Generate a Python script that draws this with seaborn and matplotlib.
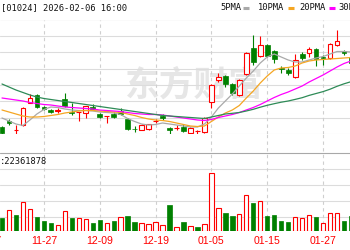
import numpy as np
import pandas as pd
import matplotlib
matplotlib.use("Agg")
import matplotlib.pyplot as plt
import matplotlib.transforms as mtransforms
from matplotlib.lines import Line2D
import seaborn as sns

# ---------------- data ----------------
dates = ["11-19", "11-20", "11-21", "11-24", "11-25", "11-26", "11-27", "11-28",
         "12-01", "12-02", "12-03", "12-04", "12-05", "12-08", "12-09", "12-10",
         "12-11", "12-12", "12-15", "12-16", "12-17", "12-18", "12-19", "12-22",
         "12-23", "12-24", "12-29", "12-30", "12-31", "01-02", "01-05", "01-06",
         "01-07", "01-08", "01-09", "01-12", "01-13", "01-14", "01-15", "01-16",
         "01-19", "01-20", "01-21", "01-22", "01-23", "01-26", "01-27", "01-28",
         "01-29", "01-30", "02-02"]

open_ = [77.30, 77.90, 76.95, 77.50, 79.70, 80.50, 79.30, 79.00, 78.90, 80.10,
         78.80, 78.75, 78.70, 79.30, 78.60, 78.35, 78.60, 78.90, 78.10, 77.10,
         77.00, 77.05, 77.85, 78.40, 77.20, 77.15, 77.30, 76.70, 76.85, 76.80,
         79.80, 82.00, 82.40, 81.60, 80.50, 82.60, 85.20, 84.40, 85.50, 84.90,
         83.15, 83.00, 82.30, 84.60, 84.70, 85.10, 84.30, 84.20, 85.50, 84.90,
         84.30]
close = [76.70, 77.70, 77.00, 79.20, 80.20, 79.30, 79.10, 78.80, 78.95, 79.40,
         78.70, 78.80, 79.40, 79.10, 78.30, 78.40, 78.30, 78.60, 77.10, 77.05,
         77.50, 77.55, 77.90, 78.20, 77.00, 77.20, 76.90, 77.20, 76.90, 78.20,
         81.50, 82.30, 81.60, 80.70, 82.00, 84.70, 83.80, 85.50, 84.40, 84.10,
         83.10, 82.70, 84.00, 84.20, 85.10, 84.10, 84.20, 85.60, 85.90, 84.70,
         83.70]
high = [77.40, 78.10, 77.50, 79.30, 80.60, 80.60, 79.40, 79.10, 79.20, 80.70,
        79.70, 78.80, 79.40, 79.60, 78.70, 78.40, 78.80, 79.20, 78.20, 77.40,
        77.60, 77.60, 78.10, 78.60, 77.30, 77.50, 77.60, 77.30, 77.00, 78.30,
        81.60, 82.70, 82.50, 81.70, 82.10, 84.80, 86.50, 86.40, 85.60, 85.00,
        83.40, 83.20, 84.60, 84.80, 85.30, 85.20, 84.50, 85.70, 87.00, 85.00,
        84.50]
low = [76.60, 77.50, 76.20, 77.40, 79.70, 79.20, 79.00, 78.70, 78.70, 79.30,
       78.50, 77.90, 78.20, 79.00, 78.20, 77.70, 78.20, 78.50, 77.00, 76.80,
       77.00, 77.00, 77.70, 78.00, 76.50, 77.00, 76.80, 76.70, 76.50, 76.70,
       79.20, 81.80, 81.30, 80.50, 80.40, 82.50, 83.50, 84.30, 84.30, 83.70,
       82.70, 82.50, 82.20, 84.00, 84.30, 83.40, 83.50, 84.10, 85.40, 84.50,
       83.50]
prev_close_first = 76.90

ma5 = [78.20, 77.90, 77.60, 77.45, 78.00, 78.60, 79.05, 79.30, 79.25, 79.10,
       79.00, 78.95, 78.95, 78.90, 78.80, 78.75, 78.70, 78.55, 78.15, 77.85,
       77.60, 77.50, 77.55, 77.70, 77.60, 77.50, 77.40, 77.30, 77.30, 77.60,
       78.30, 79.20, 79.90, 80.60, 81.40, 82.20, 82.90, 83.70, 84.30, 84.60,
       84.30, 84.00, 83.80, 83.80, 84.00, 84.20, 84.35, 84.60, 84.85, 84.85,
       84.80]
ma10 = [79.00, 78.80, 78.60, 78.40, 78.30, 78.30, 78.35, 78.45, 78.55, 78.70,
        78.80, 78.90, 78.95, 78.95, 78.90, 78.85, 78.80, 78.75, 78.60, 78.45,
        78.25, 78.10, 78.00, 77.95, 77.85, 77.70, 77.55, 77.40, 77.35, 77.40,
        77.85, 78.30, 78.70, 79.00, 79.45, 80.20, 80.90, 81.70, 82.40, 83.00,
        83.20, 83.25, 83.40, 83.70, 83.90, 84.00, 84.05, 84.10, 84.15, 84.20,
        84.25]
ma20 = [80.20, 80.10, 80.00, 79.90, 79.75, 79.65, 79.55, 79.50, 79.40, 79.30,
        79.25, 79.20, 79.15, 79.10, 79.00, 78.95, 78.90, 78.85, 78.75, 78.65,
        78.60, 78.55, 78.55, 78.50, 78.40, 78.30, 78.20, 78.10, 78.00, 77.95,
        78.05, 78.25, 78.40, 78.55, 78.75, 79.00, 79.25, 79.55, 79.90, 80.25,
        80.55, 80.80, 81.10, 81.40, 81.80, 82.15, 82.50, 82.90, 83.30, 83.65,
        83.90]
ma30 = [81.60, 81.30, 81.00, 80.75, 80.50, 80.30, 80.15, 80.05, 79.95, 79.85,
        79.75, 79.65, 79.55, 79.45, 79.35, 79.25, 79.15, 79.05, 78.95, 78.85,
        78.75, 78.65, 78.55, 78.45, 78.40, 78.35, 78.30, 78.25, 78.20, 78.15,
        78.30, 78.45, 78.60, 78.67, 78.75, 78.90, 79.07, 79.28, 79.47, 79.63,
        79.78, 79.90, 80.06, 80.23, 80.46, 80.65, 80.84, 81.08, 81.37, 81.62,
        81.83]

# volume in millions of shares
volume = [13, 21, 16, 29, 22, 14, 10, 8, 6, 20,
          13, 13, 12, 8, 11, 8, 10, 14, 15, 9,
          8, 7, 9, 6, 26, 4, 9, 5, 4, 7,
          58, 23, 18, 15, 17, 36, 28, 30, 15, 16,
          10, 9, 14, 13, 16, 14, 8, 18, 18, 10,
          15]

tick_labels = ["11-17", "11-27", "12-09", "12-19", "01-05", "01-15", "01-27"]
legend_labels = ["5PMA", "10PMA", "20PMA", "30PMA"]
header_text = "[01024] 2026-02-06 16:00"
volume_text = ":22361878"
watermark = "东方财富"

# ---------------- style ----------------
sns.set_theme(style="white")
plt.rcParams["font.family"] = ["DejaVu Sans", "Noto Sans CJK SC"]

RED = "#ff0000"
GREEN = "#008000"
MA_COLORS = ["#a9a9a9", "#f5a623", "#ff00ff", "#2e8b57"]
GRID = "#dcdcdc"
BORDER = "#a8a8a8"

W, H = 350, 250
fig = plt.figure(figsize=(W / 100, H / 100), dpi=100)
fig.patch.set_facecolor("white")


def fy(py):
    return 1 - py / H


main_top, main_bot, vol_bot = 19.5, 134.3, 231.0
ax = fig.add_axes([0, fy(main_bot), 1, (main_bot - main_top) / H])
axv = fig.add_axes([0, fy(vol_bot), 1, (vol_bot - main_bot) / H])

x = np.arange(len(dates))
o = np.array(open_); c = np.array(close); h = np.array(high); l = np.array(low)
up = c >= o
px_per_day = 6.98
x0 = -2.0 / px_per_day
xlim = (x0, x0 + W / px_per_day)

for a in (ax, axv):
    a.set_xlim(*xlim)
    a.set_facecolor("white")
    for s in a.spines.values():
        s.set_visible(False)
    a.set_xticks([]); a.set_yticks([])

# main y-range
ylo, yhi = 76.57, 88.05
ax.set_ylim(ylo, yhi)
for k, gy in enumerate(np.linspace(ylo, yhi, 8)):
    ax.axhline(gy, color=BORDER if k == 7 else GRID, lw=0.8, zorder=1)

# volume y-range
axv.set_ylim(0, 96.7)
for gy in [14, 30, 46, 62]:
    axv.axhline(gy, color=GRID, lw=0.8, zorder=1)
axv.axhline(78, color=BORDER, lw=0.8, zorder=1)
axv.axhline(0, color=BORDER, lw=0.8, zorder=1)

# vertical dashed grid at tick dates
tick_pos = [dates.index(tick_labels[1]) - 8] + [dates.index(t) for t in tick_labels[1:]]
for a in (ax, axv):
    for tp in tick_pos:
        a.axvline(tp, color="#cfcfcf", lw=0.8, ls=(0, (3, 3)), zorder=1)

# watermark
ax.text(194, 81.5, watermark, transform=mtransforms.blended_transform_factory(
    mtransforms.IdentityTransform(), ax.transData),
    fontsize=25, color="#e6e6e6", ha="center", va="center",
    family=["Noto Sans CJK SC"], fontweight="bold", zorder=0)

# candles
bw = 0.68
lw = 0.8
ax.vlines(x[~up], l[~up], h[~up], color=GREEN, lw=lw, zorder=3, clip_on=False)
ax.bar(x[~up], c[~up] - o[~up], bottom=o[~up], width=bw, color=GREEN,
       edgecolor=GREEN, lw=0.5, zorder=4, clip_on=False)
ax.vlines(x[up], l[up], o[up], color=RED, lw=lw, zorder=3, clip_on=False)
ax.vlines(x[up], c[up], h[up], color=RED, lw=lw, zorder=3, clip_on=False)
ax.bar(x[up], c[up] - o[up], bottom=o[up], width=bw, facecolor="white",
       edgecolor=RED, lw=lw, zorder=4, clip_on=False)

# moving averages
ma_df = pd.DataFrame({"x": x, "5PMA": ma5, "10PMA": ma10, "20PMA": ma20, "30PMA": ma30})
for name, col in zip(legend_labels, MA_COLORS):
    sns.lineplot(data=ma_df, x="x", y=name, ax=ax, color=col, lw=0.9, zorder=5)
ax.set_xlabel(""); ax.set_ylabel("")
ax.set_xticks([]); ax.set_yticks([])

# volume bars (colour by change vs previous close)
prev = np.r_[prev_close_first, c[:-1]]
vup = c >= prev
v = np.array(volume, dtype=float)
axv.bar(x[~vup], v[~vup], width=0.62, color=GREEN, edgecolor=GREEN, lw=0.5, zorder=3)
axv.bar(x[vup], v[vup], width=0.62, facecolor="white", edgecolor=RED, lw=lw, zorder=3)
axv.set_xlabel(""); axv.set_ylabel("")

# date labels
tr = mtransforms.blended_transform_factory(axv.transData, axv.transAxes)
for tp, lab in zip(tick_pos, tick_labels):
    axv.text(tp, -9.5 / (vol_bot - main_bot), lab, transform=tr, ha="center", va="center",
             color=RED, fontsize=7.6, family=["Liberation Sans"], clip_on=False)

# header texts
mono = ["DejaVu Sans Mono"]
fs = 6.35
fig.text(127 / W, fy(7.5), header_text, ha="right", va="center", fontsize=fs,
         family=mono, color="#111111")
fig.text(47 / W, fy(161), volume_text, ha="right", va="center", fontsize=fs,
         family=mono, color="#111111")

leg_text_x = [220, 258, 299, 338]
leg_mark_x = [(243, 249), (288, 294), (329, 335), (373, 379)]
for lab, col, tx, (m0, m1) in zip(legend_labels, MA_COLORS, leg_text_x, leg_mark_x):
    fig.text(tx / W, fy(7.5), lab, ha="left", va="center", fontsize=fs,
             family=mono, color="#111111")
    fig.add_artist(Line2D([m0 / W, m1 / W], [fy(8)] * 2, color=col, lw=2.2,
                          solid_capstyle="butt", transform=fig.transFigure))

fig.savefig("out.png", dpi=100, facecolor="white")
